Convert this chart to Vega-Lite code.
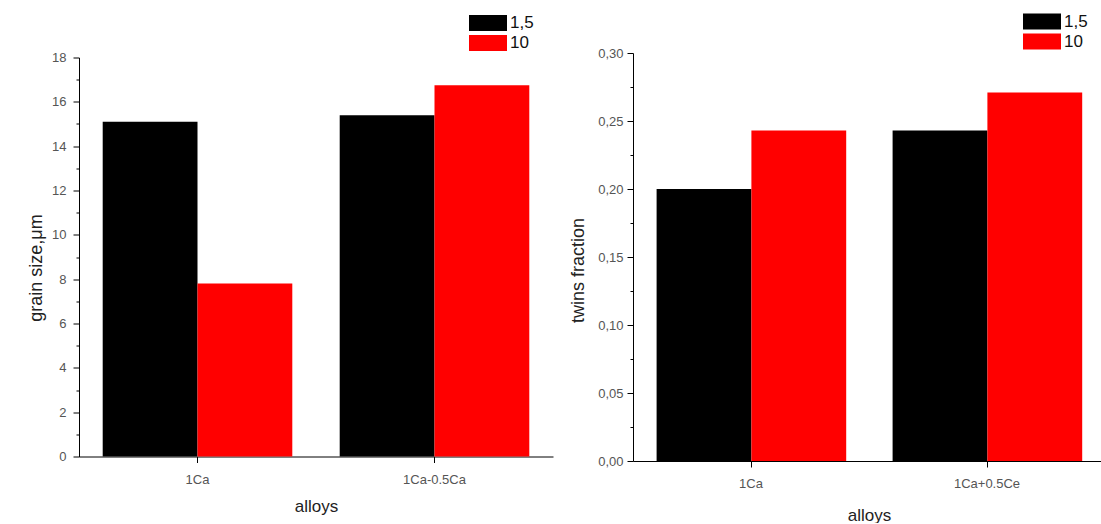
{
  "$schema": "https://vega.github.io/schema/vega-lite/v6.json",
  "padding": {"left": 27, "top": 11, "right": 0, "bottom": 0},
  "background": "white",
  "config": {"view": {"stroke": null}, "font": "Liberation Sans"},
  "datasets": {
    "grain": [
      {"alloy": "1Ca", "rate": "1,5", "value": 15.1},
      {"alloy": "1Ca", "rate": "10", "value": 7.8},
      {"alloy": "1Ca-0.5Ca", "rate": "1,5", "value": 15.4},
      {"alloy": "1Ca-0.5Ca", "rate": "10", "value": 16.75}
    ],
    "twins": [
      {"alloy": "1Ca", "rate": "1,5", "value": 0.2},
      {"alloy": "1Ca", "rate": "10", "value": 0.243},
      {"alloy": "1Ca+0.5Ce", "rate": "1,5", "value": 0.243},
      {"alloy": "1Ca+0.5Ce", "rate": "10", "value": 0.271}
    ]
  },
  "bounds": "flush",
  "spacing": 80,
  "center": true,
  "resolve": {"scale": {"color": "independent"}},
  "hconcat": [
    {
      "width": 474,
      "height": 399,
      "data": {"name": "grain"},
      "mark": {"type": "bar"},
      "encoding": {
        "x": {
          "field": "alloy", "type": "nominal", "sort": null,
          "scale": {"paddingInner": 0.2, "paddingOuter": 0.1},
          "axis": {"labelAngle": 0, "title": "alloys", "tickSize": 6, "labelPadding": 11, "labelFontSize": 13, "labelColor": "#555", "titleFontSize": 17, "titleFontWeight": "normal", "titleColor": "#222", "titlePadding": 12, "domainColor": "#000", "tickColor": "#000"}
        },
        "xOffset": {"field": "rate", "type": "nominal", "sort": ["1,5", "10"]},
        "y": {
          "field": "value", "type": "quantitative",
          "scale": {"domain": [0, 18], "nice": false},
          "axis": {
            "values": [0,1,2,3,4,5,6,7,8,9,10,11,12,13,14,15,16,17,18],
            "labelExpr": "datum.value % 2 == 0 ? datum.label : ''",
            "tickSize": {"condition": {"test": "datum.value % 2 == 0", "value": 6}, "value": 3},
            "grid": false, "title": "grain size,μm", "labelFontSize": 13, "labelColor": "#555", "labelPadding": 7,
            "titleFontSize": 18, "titleFontWeight": "normal", "titleColor": "#222", "titlePadding": 6, "titleY": 210,
            "domainColor": "#000", "tickColor": "#000"
          }
        },
        "color": {
          "field": "rate", "type": "nominal",
          "scale": {"domain": ["1,5", "10"], "range": ["#000000", "#ff0000"]},
          "legend": {"title": null, "orient": "none", "legendX": 399, "legendY": -44.5, "symbolType": "M-1.9,-0.8H1.9V0.8H-1.9Z", "symbolSize": 400, "symbolStrokeWidth": 0, "symbolOpacity": 1, "labelFontSize": 17, "labelColor": "#111", "labelOffset": 12, "rowPadding": 2}
        }
      }
    },
    {
      "width": 472,
      "height": 408,
      "data": {"name": "twins"},
      "mark": {"type": "bar"},
      "encoding": {
        "x": {
          "field": "alloy", "type": "nominal", "sort": null,
          "scale": {"paddingInner": 0.2, "paddingOuter": 0.1},
          "axis": {"labelAngle": 0, "title": "alloys", "tickSize": 6, "labelPadding": 10, "labelFontSize": 13, "labelColor": "#555", "titleFontSize": 17, "titleFontWeight": "normal", "titleColor": "#222", "titlePadding": 17, "domainColor": "#000", "tickColor": "#000"}
        },
        "xOffset": {"field": "rate", "type": "nominal", "sort": ["1,5", "10"]},
        "y": {
          "field": "value", "type": "quantitative",
          "scale": {"domain": [0, 0.3], "nice": false},
          "axis": {
            "values": [0,0.025,0.05,0.075,0.1,0.125,0.15,0.175,0.2,0.225,0.25,0.275,0.3],
            "labelExpr": "round(datum.value*40) % 2 == 0 ? replace(format(datum.value, '.2f'), '.', ',') : ''",
            "tickSize": {"condition": {"test": "round(datum.value*40) % 2 == 0", "value": 6}, "value": 3},
            "grid": false, "title": "twins fraction", "labelFontSize": 13, "labelColor": "#555", "labelPadding": 4,
            "titleFontSize": 18, "titleFontWeight": "normal", "titleColor": "#222", "titlePadding": 10, "titleY": 217,
            "domainColor": "#000", "tickColor": "#000"
          }
        },
        "color": {
          "field": "rate", "type": "nominal",
          "scale": {"domain": ["1,5", "10"], "range": ["#000000", "#ff0000"]},
          "legend": {"title": null, "orient": "none", "legendX": 399, "legendY": -41.5, "symbolType": "M-1.9,-0.8H1.9V0.8H-1.9Z", "symbolSize": 400, "symbolStrokeWidth": 0, "symbolOpacity": 1, "labelFontSize": 17, "labelColor": "#111", "labelOffset": 12, "rowPadding": 2}
        }
      }
    }
  ]
}
